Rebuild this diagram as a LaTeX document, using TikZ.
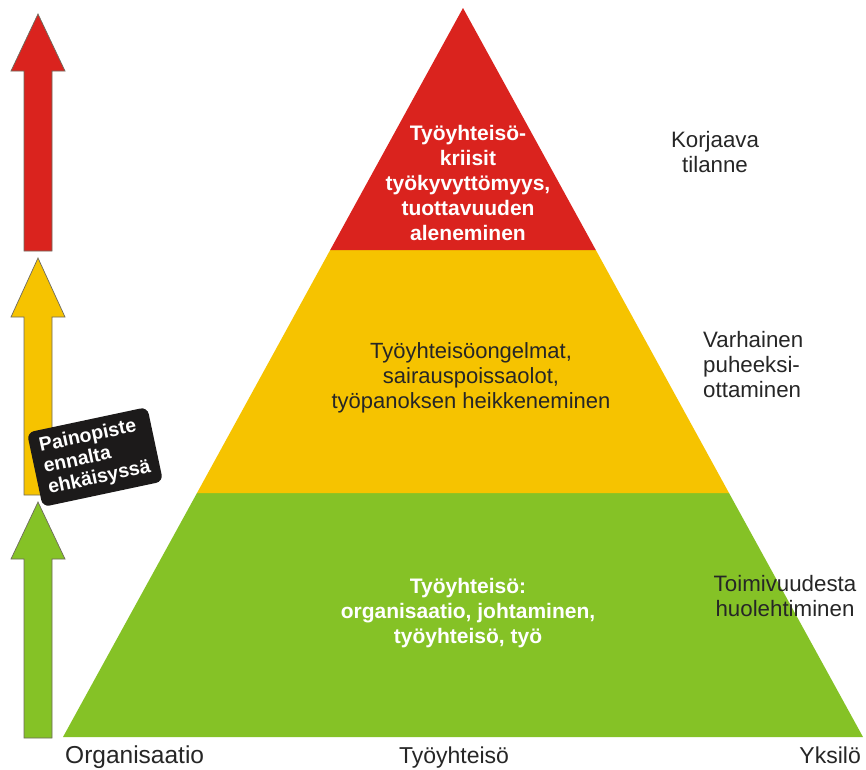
\documentclass[tikz,border=0pt]{standalone}
\usepackage{fontspec}
\setmainfont{Liberation Sans}
\definecolor{pred}{HTML}{DA231E}
\definecolor{pyellow}{HTML}{F6C300}
\definecolor{pgreen}{HTML}{85C226}
\definecolor{arrowedge}{HTML}{6E6A5E}
\definecolor{boxblack}{HTML}{1C1A1A}
\begin{document}
\begin{tikzpicture}[x=1pt,y=-1pt,
  uparrow/.style={draw=arrowedge, line width=0.7pt, line join=miter},
  midtext/.style={align=center, inner sep=0pt},
  sidetext/.style={align=center, inner sep=0pt, font=\fontsize{22.3}{25}\selectfont, text=black!85},
  axistext/.style={inner sep=0pt, font=\fontsize{23}{27}\selectfont, text=black!85, anchor=base}]
\useasboundingbox (0,0) rectangle (866,769);
\fill[white] (0,0) rectangle (866,769);

% left arrows
\draw[uparrow, fill=pred] (38,14) -- (65,71) -- (52,71) -- (52,251) -- (24,251) -- (24,71) -- (11,71) -- cycle;
\draw[uparrow, fill=pyellow] (38,258) -- (65,317) -- (52,317) -- (52,495) -- (24,495) -- (24,317) -- (11,317) -- cycle;
\draw[uparrow, fill=pgreen] (38,502) -- (65,559) -- (52,559) -- (52,738) -- (24,738) -- (24,559) -- (11,559) -- cycle;

% pyramid
\fill[pgreen] (63,737) -- (197,493) -- (729,493) -- (863,737) -- cycle;
\fill[pyellow] (197,493) -- (330.2,250) -- (595.8,250) -- (729,493) -- cycle;
\fill[pred] (330.2,250) -- (463,8) -- (595.8,250) -- cycle;

% pyramid texts
\node[midtext, text=white, font=\bfseries\fontsize{21}{25}\selectfont] (redtxt) at (468,182.5)
  {Työyhteisö-\\kriisit\\työkyvyttömyys,\\tuottavuuden\\aleneminen};
\node[midtext, text=black!85, font=\fontsize{22}{25}\selectfont] (yeltxt) at (471,377.4)
  {Työyhteisöongelmat,\\sairauspoissaolot,\\työpanoksen heikkeneminen};
\node[midtext, text=white, font=\bfseries\fontsize{21}{25}\selectfont] (grntxt) at (468,612.6)
  {Työyhteisö:\\organisaatio, johtaminen,\\työyhteisö, työ};

% side texts
\node[sidetext] (korj) at (715,151.6) {Korjaava\\tilanne};
\node[sidetext, align=left, anchor=west] (varh) at (703,365) {Varhainen\\puheeksi-\\ottaminen};
\node[sidetext] (toim) at (785,596) {Toimivuudesta\\huolehtiminen};

% axis labels
\node[axistext, anchor=base west, font=\fontsize{24.5}{27}\selectfont] (org) at (65,763) {Organisaatio};
\node[axistext] (tyo) at (454,763) {Työyhteisö};
\node[axistext, anchor=base east] (yks) at (861,763) {Yksilö};

% black box
\node[fill=boxblack, rounded corners=7pt, rotate=12, minimum width=123pt, minimum height=76pt,
  inner sep=0pt, align=left, text=white, font=\bfseries\fontsize{19.5}{21.5}\selectfont] (painop) at (95,457)
  {Painopiste\\ennalta\\ehkäisyssä};
\end{tikzpicture}
\end{document}
